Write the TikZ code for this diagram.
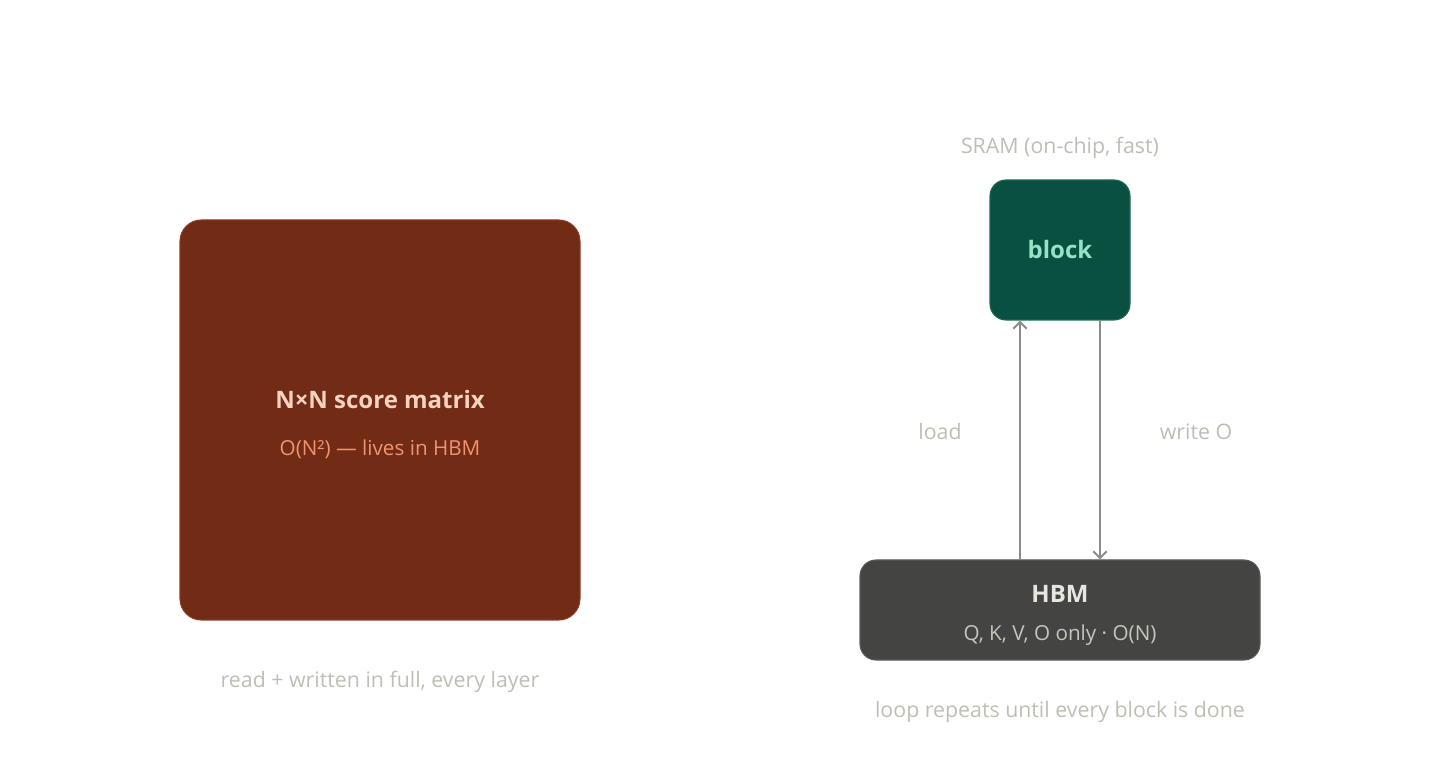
\documentclass[tikz,border=0pt]{standalone}
\usepackage{fontspec}
\setmainfont{Open Sans}
\usepackage{tikz}
\usetikzlibrary{positioning,arrows.meta}
\definecolor{rust}{HTML}{722B15}
\definecolor{rustedge}{HTML}{8A3A22}
\definecolor{rusttitle}{HTML}{F6D2C0}
\definecolor{rustsub}{HTML}{EE9470}
\definecolor{pine}{HTML}{0A5040}
\definecolor{pineedge}{HTML}{1A6A56}
\definecolor{mint}{HTML}{96E2C6}
\definecolor{slate}{HTML}{444442}
\definecolor{slateedge}{HTML}{5A5A58}
\definecolor{chalk}{HTML}{E8E6DE}
\definecolor{chalksub}{HTML}{C6C4BC}
\definecolor{note}{HTML}{BEBEB2}
\definecolor{wire}{HTML}{8A8A86}
\begin{document}
\begin{tikzpicture}
[ x=0.75pt, y=-0.75pt
, box/.style={rectangle, rounded corners=16pt, line width=0.8pt, inner sep=0pt}
, caption/.style={text=note, font=\fontsize{16}{18}\selectfont}
, link/.style={draw=wire, line width=1.5pt, -{Straight Barb[length=5pt,width=10pt]}}
]
\useasboundingbox (0,0) rectangle (1440,780);
% left: full score matrix
\node (matrix) [box, fill=rust, draw=rustedge, minimum width=300pt, minimum height=300pt] at (380,420) {};
\node (mtitle) [text=rusttitle, font=\fontsize{18}{20}\selectfont\bfseries] at (380,400) {N×N score matrix};
\node (msub) [text=rustsub, font=\fontsize{15.5}{18}\selectfont] at (380,449) {O(N²) — lives in HBM};
\node (mnote) [caption] at (380,682) {read + written in full, every layer};
% right: tiled loop
\node (sram) [caption] at (1060,148) {SRAM (on-chip, fast)};
\node (blk) [box, fill=pine, draw=pineedge, minimum width=105pt, minimum height=105pt, rounded corners=12pt, text=mint, font=\fontsize{18}{20}\selectfont\bfseries] at (1060,250) {block};
\node (hbm) [box, fill=slate, draw=slateedge, minimum width=300pt, minimum height=75pt, rounded corners=12pt] at (1060,610) {};
\node (htitle) [text=chalk, font=\fontsize{18}{20}\selectfont\bfseries] at (1060,594) {HBM};
\node (hsub) [text=chalksub, font=\fontsize{15.5}{18}\selectfont] at (1060,635) {Q, K, V, O only · O(N)};
\draw [link] ([xshift=-30pt]hbm.north) -- ([xshift=-30pt]blk.south);
\draw [link] ([xshift=30pt]blk.south) -- ([xshift=30pt]hbm.north);
\node (load) [caption] at (940,432) {load};
\node (write) [caption] at (1196,432) {write O};
\node (hnote) [caption] at (1060,712) {loop repeats until every block is done};
\end{tikzpicture}
\end{document}
